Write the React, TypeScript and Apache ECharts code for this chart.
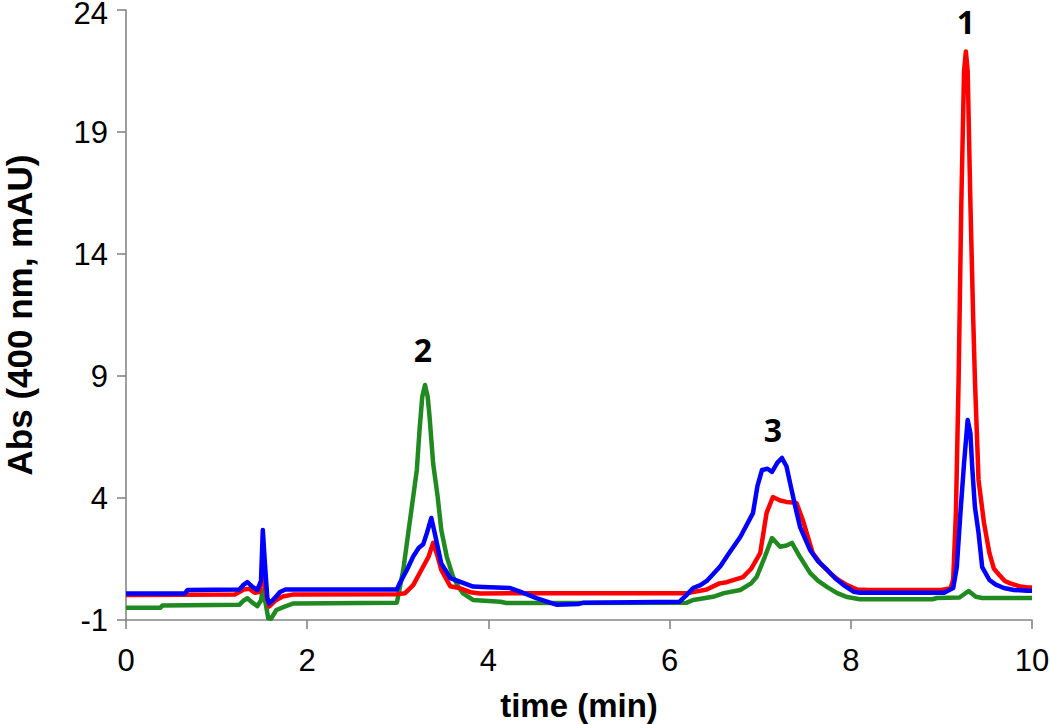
import React, { useEffect, useRef } from "react";
import * as echarts from "echarts";

// time (min), Abs (mAU)
const redSeries: [number, number][] = [
  [0, 0.02], [1.2, 0.04], [1.3, 0.25], [1.36, 0.28], [1.42, 0.12], [1.47, 0.15], [1.51, 0.9], [1.55, 0.0],
  [1.58, -0.45], [1.65, -0.2], [1.73, -0.04], [1.85, 0.05], [3.0, 0.06], [3.08, 0.1], [3.17, 0.43],
  [3.26, 1.05], [3.34, 1.6], [3.39, 2.16], [3.44, 1.6], [3.48, 1.05], [3.58, 0.38], [3.69, 0.3],
  [3.8, 0.14], [3.91, 0.09], [5.0, 0.1], [6.2, 0.1], [6.41, 0.25], [6.55, 0.5], [6.63, 0.55],
  [6.81, 0.76], [6.9, 1.1], [7.0, 1.74], [7.07, 3.38], [7.14, 4.04], [7.22, 3.9], [7.29, 3.84],
  [7.4, 3.8], [7.47, 3.1], [7.58, 1.74], [7.67, 1.3], [7.77, 0.93], [7.86, 0.65], [7.96, 0.43],
  [8.07, 0.25], [8.2, 0.23], [9.0, 0.23], [9.1, 0.3], [9.13, 0.64], [9.16, 3.38], [9.19, 8.84],
  [9.22, 16.1], [9.25, 21.5], [9.27, 22.3], [9.29, 21.5], [9.32, 16.1], [9.35, 11.5], [9.37, 8.84],
  [9.41, 4.74], [9.47, 2.98], [9.53, 1.74], [9.58, 1.1], [9.62, 0.93], [9.7, 0.6], [9.76, 0.5],
  [9.87, 0.37], [9.95, 0.33], [10, 0.33],
];

const blueSeries: [number, number][] = [
  [0, 0.09], [0.65, 0.09], [0.68, 0.23], [1.25, 0.25], [1.3, 0.45], [1.34, 0.55], [1.4, 0.35],
  [1.45, 0.23], [1.49, 0.6], [1.51, 2.69], [1.53, 1.5], [1.56, -0.1], [1.58, -0.32], [1.63, -0.15],
  [1.7, 0.15], [1.76, 0.25], [2.99, 0.25], [3.02, 0.5], [3.1, 1.05], [3.17, 1.6], [3.23, 1.95],
  [3.28, 2.1], [3.32, 2.55], [3.37, 3.18], [3.4, 2.69], [3.44, 2.0], [3.48, 1.32], [3.58, 0.72],
  [3.72, 0.52], [3.83, 0.37], [3.94, 0.35], [4.24, 0.31], [4.35, 0.16], [4.53, -0.1], [4.68, -0.29],
  [4.75, -0.37], [5.0, -0.34], [5.05, -0.29], [5.6, -0.27], [6.11, -0.25], [6.18, 0.0], [6.26, 0.31],
  [6.34, 0.43], [6.41, 0.6], [6.56, 1.2], [6.65, 1.7], [6.78, 2.4], [6.92, 3.38], [6.97, 4.5],
  [7.02, 5.15], [7.08, 5.2], [7.13, 5.07], [7.19, 5.45], [7.24, 5.64], [7.29, 5.3], [7.33, 4.61],
  [7.39, 3.6], [7.44, 2.81], [7.55, 1.87], [7.64, 1.4], [7.74, 1.05], [7.83, 0.7], [7.92, 0.43],
  [8.03, 0.16], [8.1, 0.12], [9.03, 0.12], [9.13, 0.31], [9.17, 1.17], [9.21, 3.38], [9.25, 5.43],
  [9.29, 7.2], [9.32, 6.66], [9.34, 5.27], [9.37, 3.63], [9.41, 2.57], [9.45, 1.17], [9.53, 0.64],
  [9.6, 0.45], [9.69, 0.31], [9.8, 0.23], [9.95, 0.2], [10, 0.2],
];

const greenSeries: [number, number][] = [
  [0, -0.5], [0.38, -0.5], [0.4, -0.41], [1.25, -0.38], [1.3, -0.2], [1.34, -0.11], [1.4, -0.3],
  [1.45, -0.43], [1.49, -0.2], [1.51, 0.23], [1.54, -0.3], [1.57, -0.93], [1.6, -0.95], [1.66, -0.59],
  [1.75, -0.45], [1.85, -0.32], [2.99, -0.29], [3.06, 1.05], [3.12, 2.69], [3.17, 4.05], [3.21, 5.15],
  [3.24, 6.79], [3.27, 8.15], [3.3, 8.63], [3.33, 8.15], [3.35, 7.35], [3.39, 5.42], [3.44, 4.05],
  [3.48, 2.69], [3.54, 1.6], [3.61, 0.77], [3.67, 0.35], [3.72, 0.09], [3.83, -0.18], [4.13, -0.25],
  [4.2, -0.3], [6.19, -0.29], [6.26, -0.18], [6.48, -0.05], [6.6, 0.1], [6.78, 0.23], [6.9, 0.5],
  [6.96, 0.76], [7.05, 1.58], [7.13, 2.36], [7.22, 2.0], [7.29, 2.05], [7.35, 2.16], [7.44, 1.58],
  [7.55, 0.93], [7.64, 0.6], [7.74, 0.35], [7.85, 0.1], [7.96, -0.06], [8.1, -0.15], [8.9, -0.15],
  [8.95, -0.1], [9.2, -0.08], [9.3, 0.19], [9.38, -0.05], [9.45, -0.1], [10, -0.1],
];

const yTickValues = [-1, 4, 9, 14, 19, 24];
const xTickValues = [0, 2, 4, 6, 8, 10];

const peakLabels = ["1", "2", "3"];

export default function App() {
  const ref = useRef<HTMLDivElement>(null);
  useEffect(() => {
    if (!ref.current) return;
    const chart = echarts.init(ref.current, null, { renderer: "svg" });
    const axisColor = "#868686";
    const font = "'Liberation Sans', Arial, sans-serif";
    const peakFont = "bold 32px 'Open Sans', sans-serif";
    const yMax = yTickValues[yTickValues.length - 1];
    const lineSeries = (name: string, data: [number, number][], color: string) => ({
      name,
      type: "line",
      data,
      showSymbol: false,
      symbol: "none",
      lineStyle: { color, width: 4.5, join: "round" },
      z: 2,
    });
    chart.setOption({
      animation: false,
      backgroundColor: "#ffffff",
      grid: { left: 126, right: 18, top: 10, bottom: 104, containLabel: false, outerBoundsMode: "none" },
      xAxis: {
        type: "value",
        min: 0,
        max: 10,
        interval: 2,
        name: "time (min)",
        nameLocation: "middle",
        nameGap: 69,
        nameTextStyle: { fontFamily: font, fontWeight: "bold", fontSize: 33, color: "#000" },
        axisLine: { onZero: false, lineStyle: { color: axisColor, width: 1.6 } },
        axisTick: { show: true, inside: false, length: 9, lineStyle: { color: axisColor, width: 1.6 }, customValues: xTickValues },
        axisLabel: { fontFamily: font, fontSize: 31, color: "#000", margin: 25, customValues: xTickValues },
        splitLine: { show: false },
      },
      yAxis: {
        type: "value",
        min: -1,
        max: 24,
        name: "Abs (400 nm, mAU)",
        nameLocation: "middle",
        nameGap: 89,
        nameTextStyle: { fontFamily: font, fontWeight: "bold", fontSize: 35, color: "#000" },
        axisLine: { show: true, onZero: false, lineStyle: { color: axisColor, width: 1.6 } },
        axisTick: { show: true, inside: false, length: 9, lineStyle: { color: axisColor, width: 1.6 }, customValues: yTickValues },
        axisLabel: {
          fontFamily: font,
          fontSize: 31,
          color: "#000",
          margin: 18,
          customValues: yTickValues,
          formatter: (v: number) => (v === yMax ? `{top|${v}}` : `${v}`),
          rich: { top: { fontFamily: font, fontSize: 31, color: "#000", padding: [7, 0, 0, 0] } },
        },
        splitLine: { show: false },
      },
      series: [
        lineSeries("green", greenSeries, "#208a20"),
        lineSeries("red", redSeries, "#ff0000"),
        lineSeries("blue", blueSeries, "#0000ff"),
      ],
      graphic: [
        { type: "text", x: 966, y: 21, style: { text: peakLabels[0], font: peakFont, fill: "#000", align: "center", verticalAlign: "middle" } },
        { type: "text", x: 423, y: 349, style: { text: peakLabels[1], font: peakFont, fill: "#000", align: "center", verticalAlign: "middle" } },
        { type: "text", x: 773, y: 429, style: { text: peakLabels[2], font: peakFont, fill: "#000", align: "center", verticalAlign: "middle" } },
      ],
    });
    return () => chart.dispose();
  }, []);
  return <div ref={ref} style={{ position: "fixed", left: 0, top: 0, width: 1050, height: 724 }} />;
}
